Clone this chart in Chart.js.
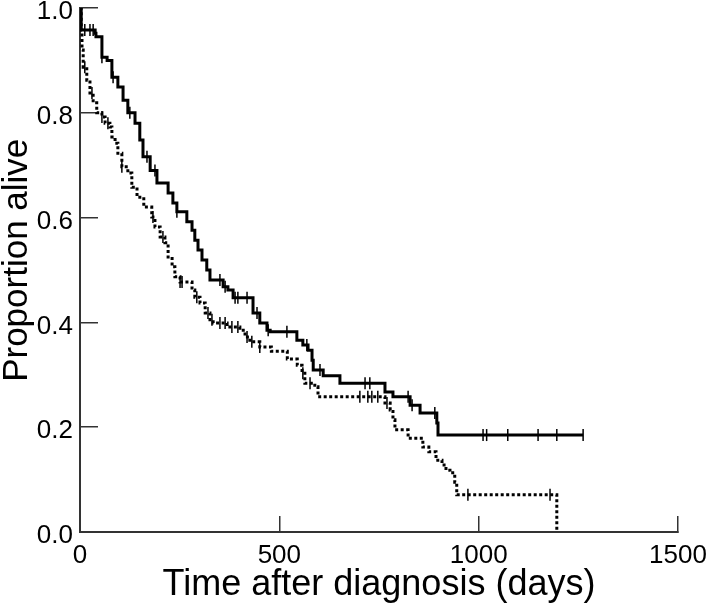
<!DOCTYPE html>
<html>
<head>
<meta charset="utf-8">
<script src="https://cdn.jsdelivr.net/npm/chart.js@4.4.1/dist/chart.umd.min.js"></script>
<style>
  html, body { margin: 0; padding: 0; background: #fff; }
  #wrap { width: 709px; height: 612px; }
</style>
</head>
<body>
<div id="wrap"><canvas id="km-chart" width="709" height="612"></canvas></div>
<script>
// curva continua (gruppo superiore): tempi degli eventi e sopravvivenza
const timesA = [0, 3, 38, 40, 55, 68, 80, 95, 108, 120, 138, 150, 158, 176, 193, 221, 233, 243, 268, 281, 288, 296, 306, 318, 326, 359, 371, 384, 434, 451, 469, 477, 544, 559, 572, 582, 585, 610, 652, 765, 785, 828, 853, 895, 898, 1262];
const survA = [1.0, 0.958, 0.952, 0.945, 0.906, 0.90, 0.868, 0.849, 0.824, 0.80, 0.78, 0.748, 0.716, 0.69, 0.666, 0.647, 0.628, 0.611, 0.592, 0.576, 0.557, 0.538, 0.519, 0.50, 0.481, 0.468, 0.462, 0.447, 0.418, 0.399, 0.385, 0.382, 0.366, 0.357, 0.347, 0.328, 0.309, 0.298, 0.284, 0.267, 0.258, 0.242, 0.227, 0.208, 0.185, 0.185];

// curva tratteggiata (gruppo inferiore)
const timesB = [0, 3, 5, 8, 17, 25, 33, 42, 55, 63, 75, 80, 88, 95, 105, 120, 130, 143, 160, 180, 188, 201, 213, 221, 231, 238, 251, 281, 288, 301, 314, 326, 334, 369, 401, 414, 426, 451, 480, 520, 545, 557, 564, 589, 597, 765, 778, 785, 790, 823, 860, 875, 893, 908, 918, 928, 940, 945, 1196];
const survB = [1.0, 0.958, 0.92, 0.887, 0.862, 0.838, 0.819, 0.80, 0.792, 0.78, 0.773, 0.754, 0.742, 0.723, 0.697, 0.685, 0.658, 0.639, 0.62, 0.601, 0.582, 0.563, 0.552, 0.525, 0.506, 0.487, 0.477, 0.462, 0.448, 0.437, 0.418, 0.405, 0.399, 0.391, 0.385, 0.372, 0.363, 0.353, 0.345, 0.33, 0.318, 0.303, 0.284, 0.277, 0.258, 0.246, 0.233, 0.214, 0.195, 0.179, 0.162, 0.153, 0.137, 0.128, 0.118, 0.113, 0.095, 0.071, 0.0];

// tempi dei pazienti censurati (tacche verticali)
const censorA = [12, 25, 33, 55, 83, 125, 168, 188, 243, 351, 364, 389, 396, 419, 444, 472, 519, 569, 602, 715, 727, 823, 833, 890, 1011, 1020, 1073, 1149, 1196, 1262];
const censorB = [12, 30, 55, 70, 105, 183, 208, 251, 256, 293, 321, 331, 351, 364, 381, 396, 419, 431, 451, 559, 577, 702, 722, 732, 747, 770, 973, 1179];

// etichette degli assi
const xTicks = [0, 500, 1000, 1500];
const yTicks = [0, 0.2, 0.4, 0.6, 0.8, 1.0];

const axisColor = "#333";
const fontFamily = "'Liberation Sans', Arial, sans-serif";

/* valore della curva a gradini al tempo t */
function levelAt(times, surv, t) {
    let v = surv[0];
    for (let i = 0; i < times.length; i++) {
        if (times[i] <= t) v = surv[i];
    }
    return v;
}

function toPoints(times, surv) {
    return times.map((t, i) => ({ x: t, y: surv[i] }));
}

function censorPoints(censor, times, surv) {
    return censor.map(t => ({ x: t, y: levelAt(times, surv, t) }));
}

const censorStyle = {
    type: "scatter",
    showLine: false,
    pointStyle: "line",
    rotation: 90,
    pointRadius: 6,
    borderColor: "#000",
    borderWidth: 1.5,
};

new Chart(document.getElementById("km-chart"), {
    type: "line",
    data: {
        datasets: [
            {
                label: "A",
                data: toPoints(timesA, survA),
                stepped: true,
                borderColor: "#000",
                borderWidth: 3,
                pointRadius: 0,
                fill: false,
            },
            {
                label: "B",
                data: toPoints(timesB, survB),
                stepped: true,
                borderColor: "#000",
                borderWidth: 3,
                borderDash: [3, 2.5],
                pointRadius: 0,
                fill: false,
            },
            { ...censorStyle, label: "A censored", data: censorPoints(censorA, timesA, survA) },
            { ...censorStyle, label: "B censored", data: censorPoints(censorB, timesB, survB) },
        ],
    },
    options: {
        responsive: false,
        animation: false,
        events: [],
        layout: { padding: { top: 8, right: 31, bottom: 0, left: 0 } },
        plugins: {
            legend: { display: false },
            tooltip: { enabled: false },
        },
        scales: {
            x: {
                type: "linear",
                min: 0,
                max: 1500,
                afterBuildTicks: scale => { scale.ticks = xTicks.map(v => ({ value: v })); },
                afterFit: scale => {
                    scale.height = 80;
                    scale.paddingLeft = 0;
                    scale.paddingRight = 0;
                },
                grid: { drawOnChartArea: false, drawTicks: true, tickLength: -16, color: axisColor, lineWidth: 1.5 },
                border: { color: axisColor, width: 2 },
                ticks: {
                    padding: 24,
                    maxRotation: 0,
                    color: "#000",
                    font: { family: fontFamily, size: 26 },
                    callback: v => String(v),
                },
                title: {
                    display: true,
                    text: "Time after diagnosis (days)",
                    color: "#000",
                    font: { family: fontFamily, size: 36, lineHeight: 1 },
                    padding: { top: 0, bottom: 9 },
                },
            },
            y: {
                type: "linear",
                min: 0,
                max: 1,
                afterBuildTicks: scale => { scale.ticks = yTicks.map(v => ({ value: v })); },
                afterFit: scale => {
                    scale.width = 80;
                    scale.paddingTop = 0;
                    scale.paddingBottom = 0;
                },
                grid: { drawOnChartArea: false, drawTicks: true, tickLength: -18, color: axisColor, lineWidth: 1.5 },
                border: { color: axisColor, width: 2 },
                ticks: {
                    padding: 25,
                    labelOffset: 4,
                    color: "#000",
                    font: { family: fontFamily, size: 26 },
                    callback: v => v.toFixed(1),
                },
                title: {
                    display: true,
                    text: "  Proportion alive",
                    color: "#000",
                    font: { family: fontFamily, size: 35, lineHeight: 1 },
                    padding: { top: 0, bottom: 0 },
                },
            },
        },
    },
});
</script>
</body>
</html>
